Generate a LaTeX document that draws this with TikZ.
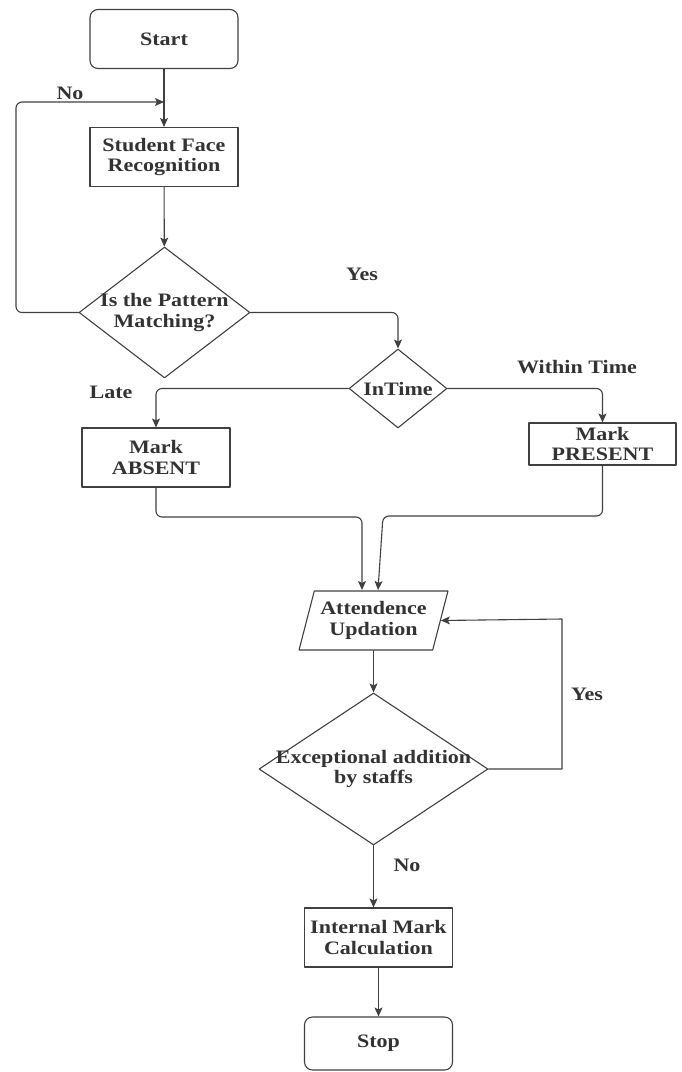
\documentclass[tikz,border=0pt]{standalone}
\usepackage{fontspec}
\setmainfont{Liberation Serif}[FakeStretch=1.16]
\usetikzlibrary{shapes.geometric,arrows.meta}

\begin{document}
\begin{tikzpicture}[x=1pt,y=-1pt,line cap=round,line join=round,
        font=\bfseries\fontsize{19}{20.5}\selectfont,
        every node/.style={text=black!80},
        box/.style={draw=black!75,line width=1.1pt,rectangle,align=center,inner sep=0pt,
            minimum width=148,minimum height=59},
        term/.style={box,rounded corners=8},
        choice/.style={draw=black!75,line width=1.1pt,diamond,inner sep=0pt},
        datain/.style={draw=black!75,line width=1.1pt,trapezium,trapezium left angle=70,
            trapezium right angle=110,trapezium stretches=true,align=center,inner sep=0pt,
            minimum width=149,minimum height=59},
        flow/.style={draw=black!75,line width=1.1pt,rounded corners=6,
            -{Stealth[length=9pt,width=8pt,inset=2pt]}}]
    \useasboundingbox (0,0) rectangle (681,1072);

    \node[term] (start) at (164,39) {Start};
    \node[box] (face) at (164,157) {Student Face\\Recognition};
    \node[choice,minimum width=171,minimum height=131,
        label={[align=center]center:{Is the Pattern\\Matching?}}] (match) at (164.5,312.5) {};
    \node[choice,minimum width=98,minimum height=79,
        label={center:InTime}] (intime) at (398,388.5) {};
    \node[box] (absent) at (156,457.5) {Mark\\ABSENT};
    \node[box,minimum width=147,minimum height=42] (present) at (602.5,444) {Mark\\PRESENT};
    \node[datain] (update) at (373.5,620.5) {Attendence\\Updation};
    \node[choice,minimum width=229,minimum height=152,
        label={[align=center]center:{Exceptional addition\\by staffs}}] (except) at (373.5,769) {};
    \node[box] (internal) at (378.5,937.5) {Internal Mark\\Calculation};
    \node[term,minimum height=53] (stop) at (378.5,1043.5) {Stop};

    \node (no1) at (70,93) {No};
    \node (yes1) at (362,274) {Yes};
    \node (late) at (111,392) {Late};
    \node (within) at (577,367) {Within Time};
    \node (yes2) at (587,694) {Yes};
    \node (no2) at (407,865) {No};

    \coordinate (loopin) at (164,102);
    \coordinate (loopc) at (16,102);
    \coordinate (bendA) at (362,517);
    \coordinate (inA) at (362,590);
    \coordinate (bendP) at (383,516);
    \coordinate (inP) at (378,590);
    \coordinate (loopr) at (562,619);

    \draw[flow] (start) -- (face);
    \draw[flow] (match.west) -| (loopc) -- (loopin);
    \draw[flow] (face) -- (match);
    \draw[flow] (match.east) -| (intime.north);
    \draw[flow] (intime.west) -| (absent.north);
    \draw[flow] (intime.east) -| (present.north);
    \draw[flow] (absent.south) |- (bendA) -- (inA);
    \draw[flow] (present.south) |- (bendP) -- (inP);
    \draw[flow] (update.south -| except.north) -- (except.north);
    \draw[flow,sharp corners] (except.east) -| (loopr) -- (update.east);
    \draw[flow] (except.south) -- (except.south |- internal.north);
    \draw[flow] (internal) -- (stop);
\end{tikzpicture}
\end{document}
